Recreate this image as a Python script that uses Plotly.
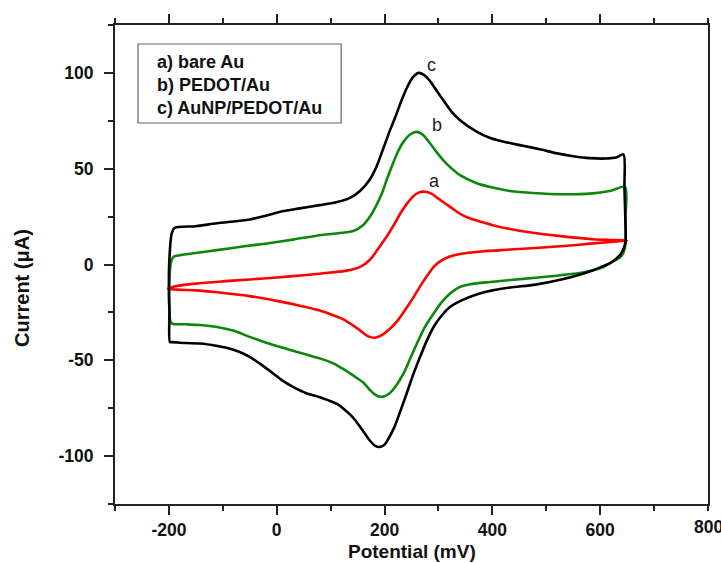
import plotly.graph_objects as go

# ---- data (Potential mV, Current µA) ----
a_x = [-202, -190, -150, -100, -50, 0, 50, 100, 130, 155, 173, 190, 205, 218, 229, 241, 253, 263, 275,
       287, 297, 312, 327, 343, 359, 380, 401, 433, 465, 526, 587, 620, 650,
       620, 587, 526, 433, 380, 340, 320, 305, 292, 280, 268, 255, 240, 225, 210, 195, 182, 170, 155,
       140, 123, 105, 80, 43, 0, -50, -111, -150, -192, -202]
a_y = [-12.5, -11.5, -10, -8.8, -7.8, -6.8, -5.6, -4.2, -3.2, -1.2, 2.5, 9, 15, 21, 26.5, 31.5, 35.5,
       37.5, 38, 37, 35, 32, 29, 26, 24, 22.2, 20.5, 18.5, 17, 14.8, 13.2, 12.8, 12.5,
       11.8, 11, 9.5, 7.8, 6.8, 5.5, 4, 2, -1, -5.5, -10.5, -16.5, -23, -29, -33.5, -36.8, -38.2,
       -37.5, -34.5, -31.5, -28.5, -26.5, -24, -21.5, -19, -16.5, -14.5, -13.5, -13, -12.5]

b_x = [-200, -199, -197, -193, -189, -150, -111, -60, -18, 30, 80, 110, 142, 160, 173, 185, 195, 205,
       216, 225, 235, 248, 260, 272, 285, 297, 309, 325, 340, 370, 396, 430, 457, 520, 581, 620, 646,
       647, 647, 643, 637, 620, 605, 570, 526, 480, 433, 396, 359, 340, 322, 305, 291, 275, 260, 247,
       235, 222, 210, 200, 192, 183, 173, 160, 150, 136, 120, 105, 80, 55, 30, 12, -18, -50, -81, -111,
       -142, -170, -192, -197, -199, -200]
b_y = [-17, -8, 0, 3.5, 4.3, 6, 7.5, 9.5, 11, 13, 15.3, 16.2, 17.5, 20.5, 25, 31, 37, 45, 53, 59, 64,
       68, 69.2, 67.5, 63, 58.5, 54.4, 50, 46.6, 42.5, 40.4, 38.5, 37.7, 36.7, 37, 38.5, 40.5,
       25, 11, 6, 3.8, 1, -1.4, -4, -5.6, -6.9, -8.1, -9.1, -10.3, -11.7, -15, -20, -25.6, -32.5, -41.2,
       -49.5, -57, -63, -67, -68.8, -69, -68, -65.5, -61.5, -59.5, -56.8, -54, -51.6, -49, -47, -45,
       -43.5, -41, -37.8, -34.5, -32.6, -31.6, -31.2, -31, -30, -24, -17]

c_x = [-200, -198, -195, -190, -150, -111, -50, -20, 10, 43, 80, 110, 136, 155, 173, 185, 197, 210, 220,
       232, 242, 252, 263, 273, 285, 297, 309, 325, 340, 370, 396, 430, 457, 490, 520, 550, 581, 610, 631,
       643, 645, 647, 647, 643, 637, 620, 600, 587, 560, 526, 480, 433, 400, 372, 345, 322, 305, 291, 278,
       266, 255, 241, 230, 218, 207, 200, 192, 182, 173, 158, 142, 125, 112, 95, 80, 55, 31, 10, -6,
       -30, -50, -70, -93, -110, -142, -170, -194, -198, -199, -200]
c_y = [-5, 8, 16, 19, 20, 21.5, 23.5, 25.5, 27.8, 29.3, 31, 32.5, 34.8, 38.5, 44.5, 51, 60, 70, 77, 86,
       92.5, 97.5, 100, 99, 95.5, 90.5, 85.7, 79.5, 75.3, 69.5, 66, 63.5, 62, 60, 58, 56.5, 55.5, 55.3,
       56, 57.5, 40, 20, 12, 8, 5, 1, -1.5, -3, -5.5, -8, -10.5, -12, -13.5, -15.5, -18.5, -22.1, -27,
       -32.6, -40, -48.2, -56, -67.3, -76, -85, -91, -94, -95.2, -94.5, -92, -86, -80, -75.5, -72.8,
       -70.8, -69.3, -67.2, -64, -60.5, -57, -52, -48.2, -45.5, -43.5, -42.5, -41.2, -41, -40.5, -40.5,
       -25, -5]

legend_lines = ["a) bare Au", "b) PEDOT/Au", "c) AuNP/PEDOT/Au"]
peak_labels = ["a", "b", "c"]
peak_label_x = [292, 297, 288]
peak_label_y = [43.5, 72.7, 104]

x_tickvals = [-200, 0, 200, 400, 600]
x_ticktext = ["-200", "0", "200", "400", "600"]
x_edge_tick = 800
x_edge_text = "800"
y_tickvals = [-100, -50, 0, 50, 100]
y_ticktext = ["-100", "-50", "0", "50", "100"]

x_title = "Potential (mV)"
y_title = "Current (μA)"

FONT = "Liberation Sans, Arial, sans-serif"
TICKSIZE = 17.5

fig = go.Figure()
for xs, ys, col in [(a_x, a_y, "#ff0000"), (b_x, b_y, "#0b870b"), (c_x, c_y, "#000000")]:
    fig.add_trace(go.Scatter(x=xs, y=ys, mode="lines",
                             line=dict(color=col, width=2.6, shape="spline", smoothing=0.8),
                             showlegend=False, hoverinfo="skip"))

for lab, lx, ly in zip(peak_labels, peak_label_x, peak_label_y):
    fig.add_annotation(x=lx, y=ly, text=lab, showarrow=False,
                       font=dict(family=FONT, size=18, color="#222"))

# legend box
fig.add_shape(type="rect", xref="paper", yref="paper",
              x0=(138 - 115) / 592.7, x1=(341 - 115) / 592.7,
              y0=(504 - 123) / 479, y1=(504 - 44) / 479,
              line=dict(color="#666", width=1.2))
for i, t in enumerate(legend_lines):
    ypx = [62, 85, 108][i]
    fig.add_annotation(xref="paper", yref="paper", x=(155 - 115) / 592.7, y=(504 - ypx) / 479,
                       xanchor="left", yanchor="middle", text=t, showarrow=False,
                       font=dict(family=FONT, size=18, color="#111", weight="bold"))

# tick label at the right edge (partly cut off, as in the reference)
fig.add_annotation(x=x_edge_tick, xref="x", yref="paper", y=-(527 - 504) / 479,
                   text=x_edge_text, showarrow=False, xanchor="center", yanchor="middle",
                   font=dict(family=FONT, size=TICKSIZE, color="#111", weight="bold"))

# axis titles
fig.add_annotation(xref="paper", yref="paper", x=(412 - 115) / 592.7, y=-(551 - 504) / 479,
                   text=x_title, showarrow=False, xanchor="center", yanchor="middle",
                   font=dict(family=FONT, size=19, color="#111", weight="bold"))
fig.add_annotation(xref="paper", yref="paper", x=(22 - 115) / 592.7, y=(504 - 288) / 479,
                   text=y_title, showarrow=False, textangle=-90, xanchor="center", yanchor="middle",
                   font=dict(family=FONT, size=20, color="#111", weight="bold"))

axis_common = dict(showgrid=False, zeroline=False, showline=True, linecolor="#222", linewidth=2,
                   ticks="outside", tickcolor="#222", tickwidth=2, ticklen=9,
                   tickfont=dict(family=FONT, size=TICKSIZE, color="#111", weight="bold"))

fig.update_xaxes(range=[-300, 800], tickvals=x_tickvals, ticktext=x_ticktext, mirror="ticks",
                 minor=dict(tickvals=[-300, -100, 100, 300, 500, 700, 800], ticks="outside", ticklen=5,
                            tickcolor="#222", tickwidth=2),
                 ticklabelstandoff=0, **axis_common)
fig.update_yaxes(range=[-125, 125], tickvals=y_tickvals, ticktext=y_ticktext, mirror=True,
                 minor=dict(dtick=25, ticks="outside", ticklen=5, tickcolor="#222", tickwidth=2),
                 ticklabelstandoff=7, **axis_common)

fig.update_layout(width=721, height=563, margin=dict(l=115, r=13, t=25, b=59, autoexpand=False),
                  plot_bgcolor="white", paper_bgcolor="white")

fig.write_html("out.html", config={"displayModeBar": False},
               post_script="document.body.style.margin='0';document.body.style.overflow='hidden';")
